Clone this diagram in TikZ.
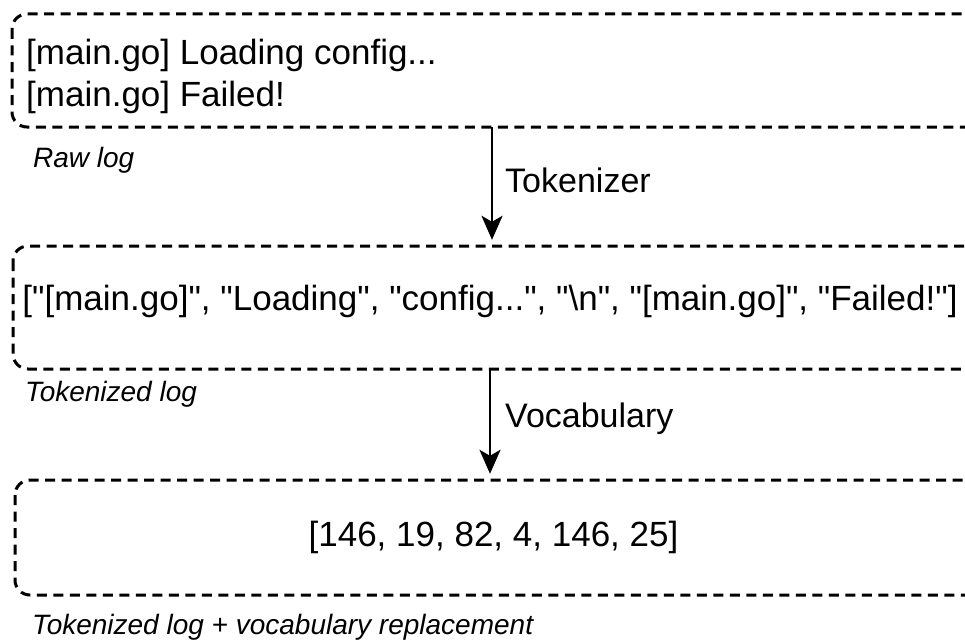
\documentclass[tikz,border=0pt]{standalone}
\usepackage{fontspec}
\setmainfont{Liberation Sans}[Ligatures=TeXOff]
\usetikzlibrary{arrows.meta,calc}
\begin{document}
\begin{tikzpicture}[x=1pt,y=-1pt,
  dbox/.style={draw=black,line width=3pt,dash pattern=on 10pt off 6.5pt,rounded corners=15pt,inner sep=0pt},
  maintext/.style={inner sep=0pt,anchor=base west,font=\fontsize{35}{40}\selectfont},
  centertext/.style={inner sep=0pt,anchor=base,font=\fontsize{35}{40}\selectfont},
  lbl/.style={inner sep=0pt,anchor=base west,font=\fontsize{28}{32}\selectfont\itshape},
  steplbl/.style={inner sep=0pt,anchor=base west,font=\fontsize{34}{40}\selectfont},
  arr/.style={line width=2.6pt,-{Stealth[length=24pt,width=21pt,inset=6pt]}}]
\useasboundingbox (0,0) rectangle (965,642);
\clip (0,0) rectangle (965,642);
\fill[white] (0,0) rectangle (965,642);
% boxes
\draw[dbox] (12,14) rectangle (985,127);
\node[inner sep=0pt,minimum width=973pt,minimum height=113pt] (box1) at (498.5,70.5) {};
\draw[dbox] (13,246) rectangle (985,369);
\node[inner sep=0pt,minimum width=972pt,minimum height=123pt] (box2) at (499,307.5) {};
\draw[dbox] (15,480) rectangle (985,595);
\node[inner sep=0pt,minimum width=970pt,minimum height=115pt] (box3) at (500,537.5) {};
% texts
\node[maintext] (l1) at (26,64) {[main.go] Loading config...};
\node[maintext] (l2) at (26,106) {[main.go] Failed!};
\node[centertext] (tok) at (490,310) {["[main.go]", "Loading", "config...", "\textbackslash n", "[main.go]", "Failed!"]};
\node[centertext] (ids) at (493.5,546) {[146, 19, 82, 4, 146, 25]};
% labels
\node[lbl] (raw) at (33,167) {Raw log};
\node[lbl] (tlog) at (25,401) {Tokenized log};
\node[lbl] (vlog) at (32,634) {Tokenized log + vocabulary replacement};
% arrows
\coordinate (a1) at (492,0);
\coordinate (a2) at (490,0);
\draw[arr] (box1.south -| a1) -- ([yshift=6pt]box2.north -| a1);
\draw[arr] (box2.south -| a2) -- ([yshift=6pt]box3.north -| a2);
\node[steplbl] (tkz) at (505,192) {Tokenizer};
\node[steplbl] (voc) at (505,427) {Vocabulary};
\end{tikzpicture}
\end{document}
